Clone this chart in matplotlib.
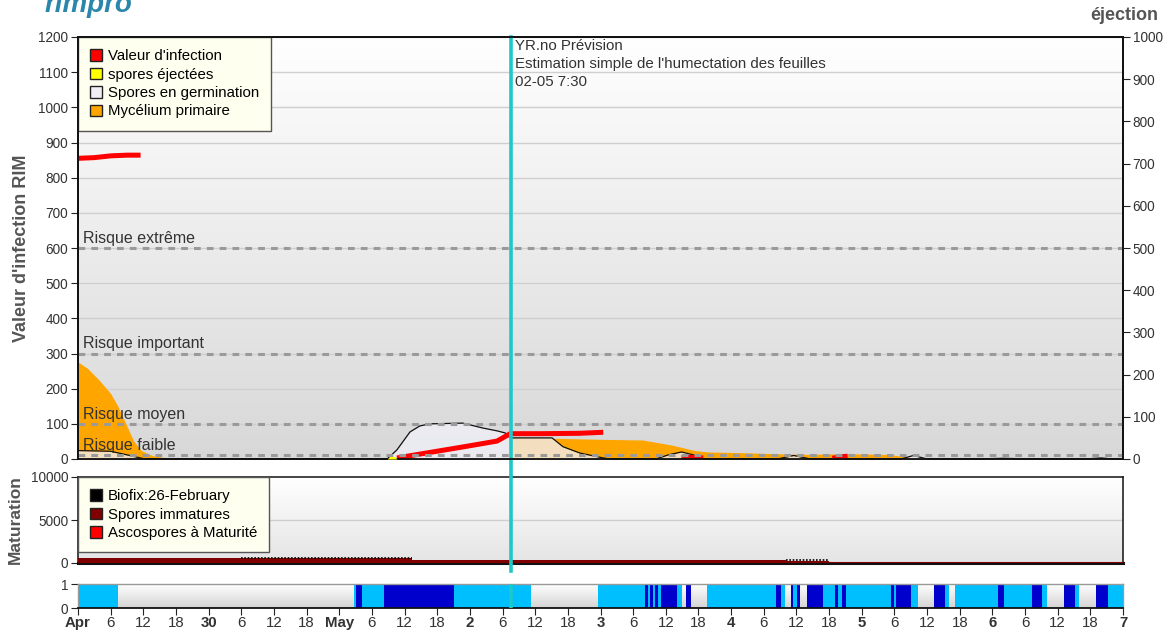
import numpy as np
import matplotlib
matplotlib.use("Agg")
import matplotlib.pyplot as plt
from matplotlib.colors import LinearSegmentedColormap
from matplotlib.patches import Patch

plt.rcParams['font.family'] = ['Liberation Sans', 'DejaVu Sans']

# ---------------- data (x in hours since Apr 29 00:00) ----------------
day_labels = ['Apr', '30', 'May', '2', '3', '4', '5', '6', '7']
hour_labels = ['6', '12', '18']
forecast_hour = 79.5          # 02-05 7:30

risk_levels = [10, 100, 300, 600]
risk_names = ['Risque faible', 'Risque moyen', 'Risque important', 'Risque extrême']

# Valeur d'infection (NaN separates segments)
red_hours = [0, 3, 6, 9, 11.5, np.nan, 58.6, 64, 70.6, 77, 79.4, 85, 92, 96.5,
             np.nan, 110.9, 112, 114.9, np.nan, 138.6, 140, 141.4]
red_vals = [855, 857, 862, 864, 864, np.nan, 3, 17, 34, 51, 72, 72, 73, 76,
            np.nan, 3, 5, 3, np.nan, 2, 6, 8]

# Mycélium primaire
orange_hours = [0, 1.8, 3.9, 6.0, 7.4, 8.8, 10.2, 11.6, 13.8, 16, 19.4, 79.4, 79.5,
                87.2, 95.9, 103.8, 109.3, 113.3, 115.7, 122, 128.3, 133, 141, 148.9,
                152.8, 156.8, 164.7, 172.6, 192]
orange_vals = [276, 257, 224, 186, 148, 100, 52, 24, 9, 4, 0, 0, 60,
               59, 56, 54, 39, 24, 20, 18, 15, 13, 15, 13,
               5, 3, 1, 1, 0]

# Spores en germination
germ_hours = [0, 6, 9.5, 12.3, 13, 52, 56.8, 58.6, 61.0, 62.8, 64.7, 70.7, 74.4, 77.0,
              78.5, 79.4, 87.1, 89.1, 92.2, 96.5, 97.7, 106.2, 108.5, 110.9, 113, 114.9,
              128.5, 131.5, 134.6, 151.2, 153.5, 156, 165, 170, 175, 185, 188, 190, 192]
germ_vals = [24, 22, 10, 0, 0, 0, 0, 26, 77, 94, 100, 102, 88, 80,
             74, 60, 60, 35, 17, 3, 0, 0, 12, 20, 12, 0,
             0, 10, 0, 0, 10, 0, 0, 2, 0, 0, 3, 0, 0]

# spores éjectées (right axis, éjection)
eject_hours = [56.8, 57.3, 58.2, 58.6]
eject_vals = [0, 6, 6, 0]

# Maturation
mat_hours = [0, 61.4, 130, 138, 192]
immature_vals = [550, 380, 200, 80, 80]
biofix_hours = [30, 61.4, np.nan, 130, 138]
biofix_vals = [550, 550, np.nan, 380, 380]

# Leaf wetness: segment start hour and state (0 dry, 1 wet, 2 very wet)
wet_starts = [0, 7.35, 50.7, 51.1, 52.2, 56.2, 69.1, 83.2, 95.5, 104.2, 104.7, 105.1,
              105.6, 106.0, 106.6, 107.1, 110.1, 111.0, 111.7, 112.6, 115.6, 128.2,
              129.2, 129.9, 131.0, 131.4, 132.1, 132.7, 133.9, 136.9, 139.1, 139.6,
              140.4, 141.1, 149.4, 149.9, 150.3, 153.0, 154.3, 157.3, 159.3, 160.0,
              161.1, 169.0, 170.1, 175.3, 177.1, 178.0, 181.2, 183.2, 183.9, 187.0,
              189.2, 192]
wet_states = [1, 0, 1, 2, 1, 2, 1, 0, 1, 2, 1, 2,
              1, 2, 1, 2, 1, 0, 2, 0, 1, 2,
              1, 0, 2, 1, 2, 0, 2, 1, 2, 1,
              2, 1, 2, 1, 2, 1, 0, 2, 1, 0,
              1, 2, 1, 2, 1, 0, 2, 1, 0, 2,
              1]

# ---------------- figure ----------------
W, H = 1176, 633
fig = plt.figure(figsize=(W / 100, H / 100), dpi=100)

def fax(x0, y0, x1, y1):
    return fig.add_axes([x0 / W, 1 - y1 / H, (x1 - x0) / W, (y1 - y0) / H])

ax = fax(78, 37, 1123, 459)
axm = fax(78, 477, 1123, 563)
axw = fax(78, 584, 1123, 608)

def gradient(a, top, bottom):
    cmap = LinearSegmentedColormap.from_list('g', [bottom, top])
    a.imshow(np.linspace(0, 1, 256).reshape(-1, 1), cmap=cmap, extent=[0, 1, 0, 1],
             transform=a.transAxes, aspect='auto', zorder=0, origin='lower')

gradient(ax, '#ffffff', '#d8d8d8')
gradient(axm, '#ffffff', '#e4e4e4')
gradient(axw, '#ffffff', '#d4d4d4')

txt = '#333333'
xmax = 24 * (len(day_labels) - 1)

# ---- main panel ----
for v in range(100, 1201, 100):
    ax.axhline(v, color='#cfcfcf', lw=1, zorder=1)
for lvl, name in zip(risk_levels, risk_names):
    ax.axhline(lvl, color='#9a9a9a', lw=2.2, ls=(0, (2.2, 2)), zorder=6)
    ax.text(1.0, lvl + 6, name, fontsize=11.5, color=txt, va='bottom', ha='left', zorder=7)

ax.fill_between(orange_hours, orange_vals, color='#ffa500', lw=0, zorder=2)
ax.fill_between(germ_hours, germ_vals, color='#f0f0f8', alpha=0.78, lw=0, zorder=3)
ax.plot(germ_hours, germ_vals, color='#111111', lw=0.9, zorder=4)
ax.plot(red_hours, red_vals, color='#ff0000', lw=3.6, solid_capstyle='butt', zorder=5)

ax.set_xlim(0, xmax)
ax.set_ylim(0, 1200)
ax.set_yticks(range(0, 1201, 100))
ax.tick_params(axis='y', direction='out', length=5, pad=2, labelsize=9.8, colors='#222',
               labelcolor=txt)
ax.tick_params(axis='x', bottom=False, labelbottom=False)
for s in ax.spines.values():
    s.set_color('#111111'); s.set_linewidth(1.3)
ax.set_ylabel("Valeur d'infection RIM", fontsize=13, fontweight='bold', color='#555555')
ax.yaxis.set_label_coords(-0.0455, 0.5)

ax2 = ax.twinx()
ax2.fill_between(eject_hours, eject_vals, color='#ffff00', lw=0, zorder=3)
ax2.set_ylim(0, 1000)
ax2.set_yticks(range(0, 1001, 100))
ax2.tick_params(axis='y', direction='out', length=5, pad=2, labelsize=9.8, colors='#222',
                labelcolor=txt)
for s in ax2.spines.values():
    s.set_color('#111111'); s.set_linewidth(1.3)
fig.text(1158 / W, 1 - 15 / H, 'éjection', fontsize=13, fontweight='bold', color='#555555',
         ha='right', va='center')

leg_kw = dict(loc='upper left', bbox_to_anchor=(0, 1), borderaxespad=0, fontsize=10.8,
              handlelength=0.8, handleheight=0.8, handletextpad=0.4, labelspacing=0.3,
              fancybox=False, framealpha=1, facecolor='#fffff0', edgecolor='#555555',
              borderpad=0.8)
handles = [Patch(facecolor='#ff0000', edgecolor='#222'),
           Patch(facecolor='#ffff00', edgecolor='#222'),
           Patch(facecolor='#f0f0f4', edgecolor='#222'),
           Patch(facecolor='#ffa500', edgecolor='#222')]
leg = ax.legend(handles, ["Valeur d'infection", 'spores éjectées', 'Spores en germination',
                          'Mycélium primaire'], **leg_kw)
leg.get_frame().set_linewidth(1)
leg.set_zorder(20)

ax.axvline(forecast_hour, ymin=-0.043, ymax=1, clip_on=False, color='#1ec8c8', lw=2.6, zorder=15)
for i, line in enumerate(['YR.no Prévision', "Estimation simple de l'humectation des feuilles",
                          '02-05 7:30']):
    ax.text(forecast_hour + 0.8, 1174 - i * 51, line, fontsize=10.8, color=txt,
            va='center', ha='left', zorder=16)

# ---- maturation panel ----
axm.axhline(5000, color='#cfcfcf', lw=1, zorder=1)
axm.fill_between(mat_hours, immature_vals, step='post', color='#800000', lw=0, zorder=3)
axm.plot(biofix_hours, biofix_vals, color='#000000', lw=1.2, ls=(0, (1, 1)), zorder=4)
axm.set_xlim(0, xmax)
axm.set_ylim(0, 10000)
axm.set_yticks([0, 5000, 10000])
axm.tick_params(axis='y', direction='out', length=5, pad=2, labelsize=9.8, colors='#222',
                labelcolor=txt)
axm.tick_params(axis='x', bottom=False, labelbottom=False)
for s in axm.spines.values():
    s.set_color('#111111'); s.set_linewidth(1.1)
axm.spines['bottom'].set_linewidth(2.2)
axm.set_ylabel('Maturation', fontsize=12.5, fontweight='bold', color='#555555')
axm.yaxis.set_label_coords(-0.053, 0.5)
axm.axvline(forecast_hour, ymin=-0.093, ymax=1, clip_on=False, color='#1ec8c8', lw=2.6, zorder=15)
mh = [Patch(facecolor='#000000', edgecolor='#222'),
      Patch(facecolor='#800000', edgecolor='#222'),
      Patch(facecolor='#ff0000', edgecolor='#222')]
lm = axm.legend(mh, ['Biofix:26-February', 'Spores immatures', 'Ascospores à Maturité'],
                **leg_kw)
lm.get_frame().set_linewidth(1)
lm.set_zorder(20)

# ---- wetness panel ----
wet_colors = {0: None, 1: '#00bfff', 2: '#0000cd'}
for s0, s1, st in zip(wet_starts[:-1], wet_starts[1:], wet_states):
    if wet_colors[st]:
        axw.axvspan(s0, s1, color=wet_colors[st], lw=0, zorder=2)
axw.axvline(forecast_hour, color='#1ec8c8', lw=2.6, zorder=15)
axw.set_xlim(0, xmax)
axw.set_ylim(0, 1)
axw.set_yticks([0, 1])
axw.tick_params(axis='y', direction='out', length=5, pad=2, labelsize=9.8, colors='#222',
                labelcolor=txt)
for s in axw.spines.values():
    s.set_color('#999999'); s.set_linewidth(1)
axw.spines['bottom'].set_color('#111111'); axw.spines['bottom'].set_linewidth(1.3)

ticks = list(range(0, xmax + 1, 6))
labels = []
for t in ticks:
    if t % 24 == 0:
        labels.append(day_labels[t // 24])
    else:
        labels.append(hour_labels[(t % 24) // 6 - 1])
axw.set_xticks(ticks)
axw.set_xticklabels(labels)
axw.tick_params(axis='x', direction='out', length=5, labelsize=10.8, colors='#222',
                labelcolor=txt, pad=1)
for t, lab in zip(ticks, axw.get_xticklabels()):
    if t % 24 == 0:
        lab.set_fontweight('bold')

# logo (cut at top like the reference)
fig.text(45 / W, 1 - 12 / H, 'rimpro', fontsize=20, fontweight='bold', fontstyle='italic',
         color='#2b86ab', ha='left', va='baseline')

fig.savefig('out.png', dpi=100)
